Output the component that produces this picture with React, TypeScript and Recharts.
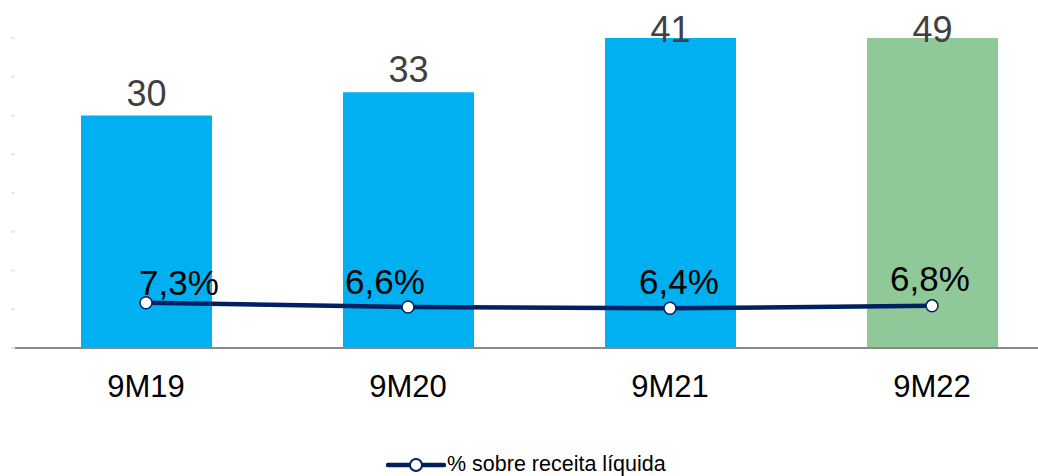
import React from "react";
import {
  ComposedChart,
  Bar,
  Line,
  XAxis,
  YAxis,
  Cell,
  LabelList,
} from "recharts";

const periods = ["9M19", "9M20", "9M21", "9M22"];
const values = [30, 33, 41, 49];
const pctOfRevenue = [7.3, 6.6, 6.4, 6.8];
const pctLabels = ["7,3%", "6,6%", "6,4%", "6,8%"];
const leftTicks = [0, 5, 10, 15, 20, 25, 30, 35, 40];

const barColors = ["#00B0F0", "#00B0F0", "#00B0F0", "#8FC999"];
// hand-placed label offsets, as in the original deck
const pctLabelDx = [33, -23, 9, -2];
const pctLabelDy = [-8, -13, -14, -15];

const FONT = '"Liberation Sans", Arial, sans-serif';
const NAVY = "#002060";

const data = periods.map((p, i) => ({
  period: p,
  value: values[i],
  pct: pctOfRevenue[i],
  pctLabel: pctLabels[i],
}));

const BarValueLabel = (props: any) => {
  const { x, y, width, value } = props;
  // keep labels of clipped bars inside the picture
  const baseline = Math.max(y - 10, 42);
  return (
    <text
      x={x + width / 2}
      y={baseline}
      textAnchor="middle"
      fontSize={36}
      fontFamily={FONT}
      fill="#404040"
    >
      {value}
    </text>
  );
};

const PctLabel = (props: any) => {
  const { x, y, index } = props;
  return (
    <text
      x={x + pctLabelDx[index]}
      y={y + pctLabelDy[index]}
      textAnchor="middle"
      fontSize={35}
      fontFamily={FONT}
      fill="#000"
    >
      {pctLabels[index]}
    </text>
  );
};

export default function App() {
  return (
    <div
      style={{
        position: "absolute",
        left: 0,
        top: 0,
        width: 1038,
        height: 476,
        overflow: "hidden",
        background: "#fff",
        fontFamily: FONT,
      }}
    >
      <ComposedChart
        width={1063}
        height={476}
        data={data}
        margin={{ top: 38, right: 0, bottom: 68, left: 0 }}
        barCategoryGap="25%"
      >
        <XAxis
          dataKey="period"
          axisLine={{ stroke: "#898989", strokeWidth: 2 }}
          tickLine={false}
          tickSize={0}
          tickMargin={27}
          height={60}
          tick={{ fontSize: 31, fontFamily: FONT, fill: "#000" }}
          interval={0}
        />
        <YAxis
          yAxisId="left"
          domain={[0, 40]}
          ticks={leftTicks}
          allowDataOverflow
          width={15}
          axisLine={false}
          tickSize={4}
          tickLine={{ stroke: "#e6e6e6", strokeWidth: 2 }}
          tickFormatter={() => ""}
        />
        <YAxis yAxisId="right" orientation="right" domain={[0, 50]} hide />
        <Bar
          yAxisId="left"
          dataKey="value"
          barSize={131}
          isAnimationActive={false}
        >
          {data.map((d, i) => (
            <Cell key={d.period} fill={barColors[i]} />
          ))}
          <LabelList dataKey="value" content={BarValueLabel} />
        </Bar>
        <Line
          yAxisId="right"
          dataKey="pct"
          type="linear"
          stroke={NAVY}
          strokeWidth={4.5}
          dot={{ r: 6, fill: "#fff", stroke: NAVY, strokeWidth: 1.5 }}
          activeDot={false}
          isAnimationActive={false}
        >
          <LabelList dataKey="pctLabel" content={PctLabel} />
        </Line>
      </ComposedChart>
      <div
        style={{
          position: "absolute",
          left: 386,
          top: 452,
          display: "flex",
          alignItems: "center",
          whiteSpace: "nowrap",
        }}
      >
        <svg width={60} height={24}>
          <line x1={2} y1={13} x2={58} y2={13} stroke={NAVY} strokeWidth={4.5} strokeLinecap="round" />
          <circle cx={30} cy={13} r={6} fill="#fff" stroke={NAVY} strokeWidth={2} />
        </svg>
        <span style={{ fontSize: 21.5, color: "#000", lineHeight: "24px", marginLeft: 1 }}>
          % sobre receita líquida
        </span>
      </div>
    </div>
  );
}
